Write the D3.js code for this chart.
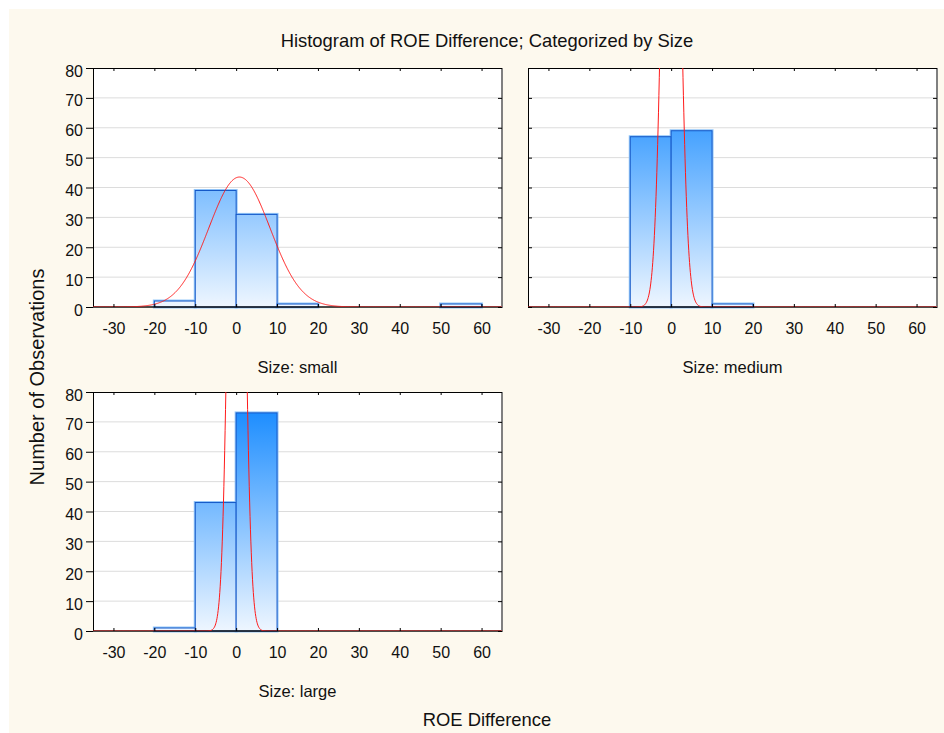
<!DOCTYPE html>
<html>
<head>
<meta charset="utf-8">
<script src="https://cdn.jsdelivr.net/npm/d3@7"></script>
<style>
  body { margin: 0; background: #ffffff; }
  svg { display: block; font-family: "Liberation Sans", Arial, sans-serif; }
</style>
</head>
<body>
<div id="chart-area"></div>
<script>
// data
var panelLabels = ["Size: small", "Size: medium", "Size: large"];
var binStarts = [-30, -20, -10, 0, 10, 20, 30, 40, 50];
var binWidth = 10;
var smallCounts = [0, 2, 39, 31, 1, 0, 0, 0, 1];
var mediumCounts = [0, 0, 57, 59, 1, 0, 0, 0, 0];
var largeCounts = [0, 1, 43, 73, 0, 0, 0, 0, 0];
var fitMean = [0.8, 0, 0.1];
var fitSD = [7.5, 1.9, 1.65];
var fitPeak = [43.5, 246, 283];
var xTicks = [-30, -20, -10, 0, 10, 20, 30, 40, 50, 60];
var yTicks = [0, 10, 20, 30, 40, 50, 60, 70, 80];

var counts = [smallCounts, mediumCounts, largeCounts];

var width = 944, height = 733;
var pw = 409, ph = 239;
var panels = [
    { left: 93, top: 68, yLabels: true },
    { left: 528, top: 68, yLabels: false },
    { left: 93, top: 392, yLabels: true }
];

// plain hyphen for negatives, like the original
var fmt = function(d){ return String(d); };

var svg = d3.select("#chart-area")
    .append("svg")
        .attr("width", width)
        .attr("height", height);

svg.append("rect")
    .attr("x", 9).attr("y", 9)
    .attr("width", width - 9).attr("height", height - 9)
    .attr("fill", "#fdf9ee");

var defs = svg.append("defs");
var grad = defs.append("linearGradient")
    .attr("id", "barGrad")
    .attr("gradientUnits", "userSpaceOnUse")
    .attr("x1", 0).attr("y1", 0)
    .attr("x2", 0).attr("y2", ph);
grad.append("stop").attr("offset", "0%").attr("stop-color", "#0a84ff");
grad.append("stop").attr("offset", "100%").attr("stop-color", "#eef6ff");

defs.append("clipPath").attr("id", "plotClip")
    .append("rect").attr("width", pw).attr("height", ph);

var x = d3.scaleLinear().domain([-35, 65]).range([0, pw]);
var y = d3.scaleLinear().domain([0, 80]).range([ph, 0]);

// title
svg.append("text")
    .attr("x", 487).attr("y", 47)
    .attr("font-size", "18.4px")
    .attr("text-anchor", "middle")
    .attr("fill", "#111")
    .text("Histogram of ROE Difference; Categorized by Size");

// X label
svg.append("text")
    .attr("x", 487).attr("y", 726)
    .attr("font-size", "18.4px")
    .attr("text-anchor", "middle")
    .attr("fill", "#111")
    .text("ROE Difference");

// Y label
svg.append("text")
    .attr("transform", "translate(44,377) rotate(-90)")
    .attr("font-size", "20px")
    .attr("text-anchor", "middle")
    .attr("fill", "#111")
    .text("Number of Observations");

panels.forEach(function(p, i) {
    var g = svg.append("g")
        .attr("transform", "translate(" + p.left + "," + p.top + ")");

    g.append("rect")
        .attr("width", pw).attr("height", ph)
        .attr("fill", "#ffffff");

    // gridlines
    g.selectAll(".grid")
        .data(yTicks.filter(function(d){ return d > 0 && d < 80; }))
        .enter().append("line")
        .attr("x1", 0).attr("x2", pw)
        .attr("y1", function(d){ return y(d); })
        .attr("y2", function(d){ return y(d); })
        .attr("stroke", "#dcdcdc");

    var bins = binStarts.map(function(b, j){
        return { x0: b, x1: b + binWidth, n: counts[i][j] };
    }).filter(function(d){ return d.n > 0; });

    // outer light edge
    g.selectAll(".barEdge")
        .data(bins)
        .enter().append("rect")
        .attr("x", function(d){ return x(d.x0); })
        .attr("y", function(d){ return y(d.n); })
        .attr("width", function(d){ return x(d.x1) - x(d.x0); })
        .attr("height", function(d){ return ph - y(d.n); })
        .attr("fill", "none")
        .attr("stroke", "#93c6f8")
        .attr("stroke-width", 3);

    g.selectAll(".bar")
        .data(bins)
        .enter().append("rect")
        .attr("x", function(d){ return x(d.x0); })
        .attr("y", function(d){ return y(d.n); })
        .attr("width", function(d){ return x(d.x1) - x(d.x0); })
        .attr("height", function(d){ return ph - y(d.n); })
        .attr("fill", "url(#barGrad)")
        .attr("stroke", "#1458c8")
        .attr("stroke-width", 1);

    // frame
    g.append("line").attr("x1", 0).attr("x2", pw).attr("y1", 0.5).attr("y2", 0.5)
        .attr("stroke", "#000");
    g.append("line").attr("x1", 0.5).attr("x2", 0.5).attr("y1", 0).attr("y2", ph)
        .attr("stroke", "#000");
    g.append("line").attr("x1", 0).attr("x2", pw).attr("y1", ph).attr("y2", ph)
        .attr("stroke", "#111").attr("stroke-width", 1.5);
    g.append("line").attr("x1", pw).attr("x2", pw).attr("y1", 0).attr("y2", ph + 1)
        .attr("stroke", "#808080").attr("stroke-width", 2);

    // normal fit
    var pts = d3.range(-35, 65.01, 0.1);
    var line = d3.line()
        .x(function(d){ return x(d); })
        .y(function(d){
            var z = (d - fitMean[i]) / fitSD[i];
            return y(fitPeak[i] * Math.exp(-0.5 * z * z));
        });
    g.append("path")
        .datum(pts)
        .attr("clip-path", "url(#plotClip)")
        .attr("d", line)
        .attr("fill", "none")
        .attr("stroke", "#ff1a1a")
        .attr("stroke-width", 1);

    // X Axis
    var xAxis = g.append("g")
        .attr("transform", "translate(0," + ph + ")")
        .call(d3.axisBottom(x).tickValues(xTicks).tickFormat(fmt)
            .tickSize(-3).tickPadding(15.5));
    xAxis.select(".domain").remove();
    xAxis.selectAll("text").attr("font-size", "16px").attr("fill", "#111");

    // top ticks
    var topAxis = g.append("g")
        .call(d3.axisTop(x).tickValues(xTicks).tickSize(-3).tickFormat(""));
    topAxis.select(".domain").remove();

    // right ticks
    var rightAxis = g.append("g")
        .attr("transform", "translate(" + pw + ",0)")
        .call(d3.axisRight(y).tickValues(yTicks).tickSize(-4).tickFormat(""));
    rightAxis.select(".domain").remove();

    // Y Axis
    var yAxisCall = d3.axisLeft(y).tickValues(yTicks);
    if (p.yLabels) {
        yAxisCall.tickSize(7).tickPadding(3).tickFormat(fmt);
    } else {
        yAxisCall.tickSize(-4).tickFormat("");
    }
    var yAxis = g.append("g").call(yAxisCall);
    yAxis.select(".domain").remove();
    yAxis.selectAll("text")
        .attr("font-size", "16px")
        .attr("fill", "#111")
        .attr("dy", "0.5em");

    // panel label
    svg.append("text")
        .attr("x", p.left + pw / 2)
        .attr("y", p.top + ph + 66)
        .attr("font-size", "16.5px")
        .attr("text-anchor", "middle")
        .attr("fill", "#111")
        .text(panelLabels[i]);
});
</script>
</body>
</html>
